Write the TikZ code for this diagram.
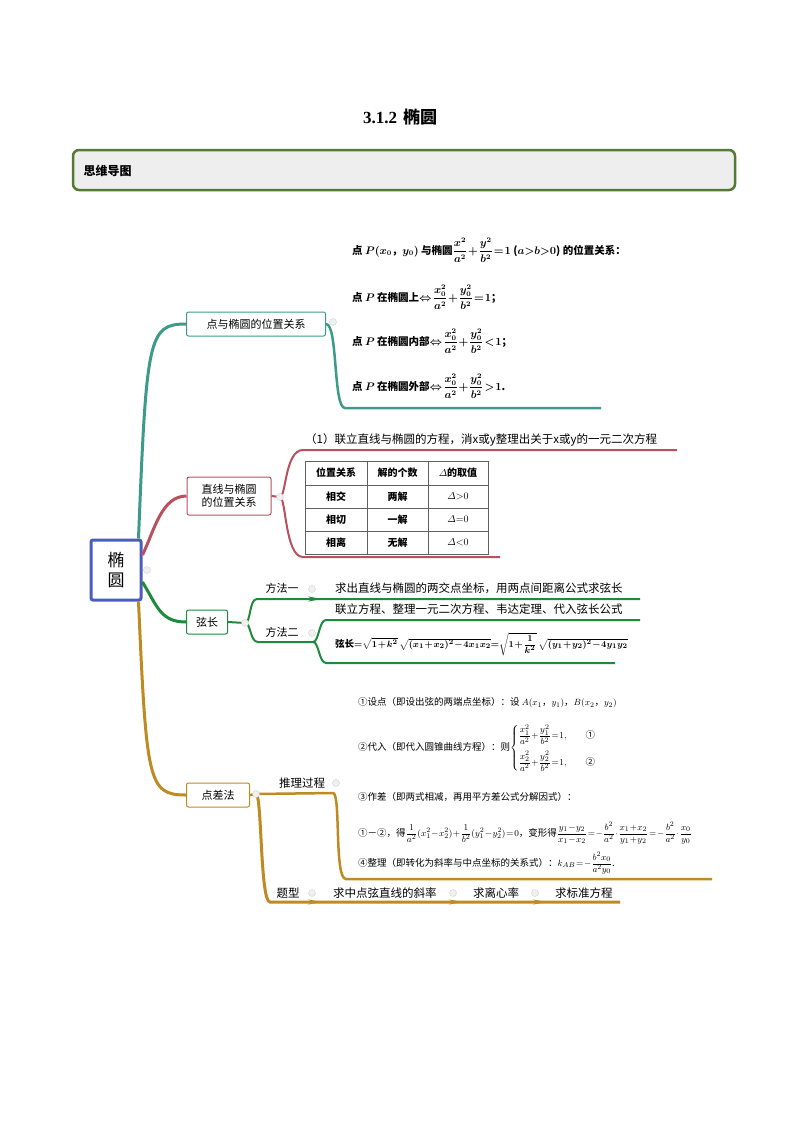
\documentclass[tikz,border=0pt]{standalone}
\usepackage{amsmath}
\usepackage{amssymb}
\usepackage[no-math]{fontspec}
\setmainfont{Noto Sans CJK SC}
\newfontfamily\titlefont{Liberation Serif}
\usetikzlibrary{calc,arrows.meta,positioning}
\definecolor{hdrgreen}{HTML}{557A35}
\definecolor{rootblue}{HTML}{4A5CC0}
\definecolor{tealbr}{HTML}{3C9A8A}
\definecolor{redbr}{HTML}{B8505E}
\definecolor{greenbr}{HTML}{1F8A3C}
\definecolor{goldbr}{HTML}{BE8A22}
\definecolor{tblgray}{HTML}{606060}
\newcommand{\fs}[1]{\fontsize{#1}{#1}\selectfont}
\newcommand{\tightmath}{\medmuskip=1mu\thickmuskip=1.5mu}

\begin{document}
\begin{tikzpicture}[x=1pt,y=-1pt,
  topic/.style={draw,rounded corners=2,line width=1,inner sep=0,minimum height=24,font=\fs{11}},
  knob/.style={circle,fill=gray!12,draw=gray!35,line width=0.4,inner sep=0,minimum size=7},
  leaf/.style={anchor=west,inner sep=0},
  cell/.style={inner sep=0,font=\bfseries\fs{10}},
  tip/.style={-{Stealth[length=14,width=5]}}]
\useasboundingbox (0,0) rectangle (800,1132);
\node (title) at (400,117) {\bfseries\fs{17}{\titlefont 3.1.2}\hspace{6pt}椭圆};
\draw[draw=hdrgreen,line width=2.5,fill=gray!13,rounded corners=6] (73,150) rectangle (735,190);
\node[anchor=west,font=\bfseries\fs{12}] (hdr) at (80,171) {思维导图};

% main topics
\node[draw=rootblue,line width=3,rounded corners=2,minimum width=50,minimum height=60,align=center,inner sep=0,font=\fs{17}] (root) at (116,570) {椭\\[3pt]圆};
\node[topic,draw=tealbr,minimum width=139] (pt) at (256,324) {点与椭圆的位置关系};
\node[topic,draw=redbr,minimum width=84,minimum height=38,align=center] (ln) at (229,496) {直线与椭圆\\[2pt]的位置关系};
\node[topic,draw=greenbr,minimum width=41] (chd) at (207,622) {弦长};
\node[topic,draw=goldbr,minimum width=63] (pd) at (218,795) {点差法};

\draw[tealbr,line width=3] ($(root.north east)+(-4,0)$) .. controls +(8,-200) and +(-38,0) .. (pt.west);
\draw[redbr,line width=3] ($(root.east)+(0,-15)$) .. controls +(12,-25) and +(-25,0) .. (ln.west);
\draw[greenbr,line width=3] ($(root.east)+(0,12)$) .. controls +(15,25) and +(-25,0) .. (chd.west);
\draw[goldbr,line width=3] ($(root.south east)+(-4,0)$) .. controls +(8,180) and +(-38,0) .. (pd.west);

% point and ellipse
\coordinate (k1) at (333,322);
\coordinate (ptbase) at (345,408);
\coordinate (ptend) at (601,408);
\draw[tealbr,line width=2.5] (pt.east) .. controls +(12,0) and +(-12,0) .. (ptbase) -- (ptend);
\begin{scope}[font=\bfseries\boldmath\fs{10.5}\tightmath]
\node[leaf] (p0) at (352,250) {点 $P(x_0$，$y_0)$ 与椭圆$\dfrac{x^2}{a^2}+\dfrac{y^2}{b^2}=1$ ($a{>}b{>}0$) 的位置关系：};
\node[leaf] (p1) at (352,297) {点 $P$ 在椭圆上$\Leftrightarrow\dfrac{x_0^2}{a^2}+\dfrac{y_0^2}{b^2}=1$；};
\node[leaf] (p2) at (352,341) {点 $P$ 在椭圆内部$\Leftrightarrow\dfrac{x_0^2}{a^2}+\dfrac{y_0^2}{b^2}<1$；};
\node[leaf] (p3) at (352,386) {点 $P$ 在椭圆外部$\Leftrightarrow\dfrac{x_0^2}{a^2}+\dfrac{y_0^2}{b^2}>1$.};
\end{scope}

% line and ellipse
\coordinate (k2) at (280,497);
\coordinate (lnup) at (303,450);
\coordinate (lnupend) at (677,450);
\coordinate (lndn) at (303,557);
\coordinate (lndnend) at (500,557);
\draw[redbr,line width=2] (ln.east) -- (k2) .. controls +(6,0) and +(-18,0) .. (lnup) -- (lnupend);
\draw[redbr,line width=2] (k2) .. controls +(6,0) and +(-18,0) .. (lndn) -- (lndnend);
\node[leaf,font=\fs{11.5}] (l0) at (305,440) {（1）联立直线与椭圆的方程，消x或y整理出关于x或y的一元二次方程};
\draw[tblgray,line width=0.9] (305,461) rectangle (488,554);
\foreach \x in {367,428} \draw[tblgray,line width=0.9] (\x,461) -- (\x,554);
\foreach \y in {485,508,531} \draw[tblgray,line width=0.9] (305,\y) -- (488,\y);
\foreach \r/\ry/\a/\b/\d in {0/473/位置关系/解的个数/$\varDelta$的取值,1/496.5/相交/两解/$\varDelta{>}0$,2/519.5/相切/一解/$\varDelta{=}0$,3/542.5/相离/无解/$\varDelta{<}0$}{
  \node[cell] (t\r a) at (336,\ry) {\a};
  \node[cell] (t\r b) at (397.5,\ry) {\b};
  \node[cell] (t\r c) at (458,\ry) {\d};
}

% chord length
\coordinate (k3) at (245,623);
\coordinate (m1) at (257,599);
\coordinate (m1arr) at (322,599);
\coordinate (m1end) at (640,599);
\coordinate (m2a) at (258,642);
\coordinate (m2) at (313,642);
\coordinate (m2up) at (326,620);
\coordinate (m2upend) at (640,620);
\coordinate (m2dn) at (326,663);
\coordinate (m2dnend) at (615,663);
\draw[greenbr,line width=2] (chd.east) -- (k3) .. controls +(6,0) and +(-8,0) .. (m1) -- (m1end);
\draw[greenbr,line width=2,tip] (m1) -- (m1arr);
\draw[greenbr,line width=2] (k3) .. controls +(6,0) and +(-8,0) .. (m2a) -- (m2);
\draw[greenbr,line width=2] (m2) .. controls +(6,0) and +(-7,0) .. (m2up) -- (m2upend);
\draw[greenbr,line width=2] (m2) .. controls +(6,0) and +(-7,0) .. (m2dn) -- (m2dnend);
\node[font=\fs{11}] (me1) at (282,588) {方法一};
\node[font=\fs{11}] (me2) at (282,632) {方法二};
\node[leaf,font=\fs{11.5}] (c1) at (335,588) {求出直线与椭圆的两交点坐标，用两点间距离公式求弦长};
\node[leaf,font=\fs{11.5}] (c2) at (335,609) {联立方程、整理一元二次方程、韦达定理、代入弦长公式};
\node[leaf,font=\bfseries\boldmath\fs{9.5}\tightmath] (c3) at (335,644) {弦长${=}\sqrt{1+k^2}\,\sqrt{(x_1+x_2)^2-4x_1x_2}{=}\sqrt{1+\dfrac{1}{k^2}}\,\sqrt{(y_1+y_2)^2-4y_1y_2}$};

% point difference
\coordinate (k4) at (256,794);
\coordinate (g1) at (333,793);
\coordinate (g1b) at (346,879);
\coordinate (g1end) at (712,879);
\coordinate (g2) at (270,902);
\coordinate (g2end) at (620,902);
\draw[goldbr,line width=2.5] (pd.east) -- (k4) -- (g1) .. controls +(8,0) and +(-12,0) .. (g1b) -- (g1end);
\draw[goldbr,line width=3] (k4) .. controls +(6,0) and +(-10,0) .. (g2) -- (g2end);
\foreach \t in {322,463,547} \draw[goldbr,line width=2,tip] (\t-16,902) -- (\t,902);
\node[font=\fs{11.5}] (rp) at (302,783) {推理过程};
\node[font=\fs{11.5}] (tx) at (288,893) {题型};
\node[leaf,font=\fs{11.5}] (q1) at (333,893) {求中点弦直线的斜率};
\node[leaf,font=\fs{11.5}] (q2) at (473,893) {求离心率};
\node[leaf,font=\fs{11.5}] (q3) at (555,893) {求标准方程};
\begin{scope}[font=\fs{9.5}\tightmath]
\node[leaf] (s1) at (358,703) {①设点（即设出弦的两端点坐标）：设 $A(x_1$，$y_1)$，$B(x_2$，$y_2)$};
\node[leaf] (s2) at (358,748) {②代入（即代入圆锥曲线方程）：则$\begin{cases}\dfrac{x_1^2}{a^2}+\dfrac{y_1^2}{b^2}=1, & \quad\text{①}\\[9pt] \dfrac{x_2^2}{a^2}+\dfrac{y_2^2}{b^2}=1, & \quad\text{②}\end{cases}$};
\node[leaf] (s3) at (358,797) {③作差（即两式相减，再用平方差公式分解因式）：};
\node[leaf] (s4) at (358,833) {①－②，得$\dfrac{1}{a^2}(x_1^2-x_2^2)+\dfrac{1}{b^2}(y_1^2-y_2^2)=0$，变形得$\dfrac{y_1-y_2}{x_1-x_2}=-\dfrac{b^2}{a^2}\cdot\dfrac{x_1+x_2}{y_1+y_2}=-\dfrac{b^2}{a^2}\cdot\dfrac{x_0}{y_0}$};
\node[leaf] (s5) at (358,863) {④整理（即转化为斜率与中点坐标的关系式）：$k_{AB}=-\dfrac{b^2x_0}{a^2y_0}$.};
\end{scope}

% knobs
\foreach \k in {(147,570),(k1),(k2),(k3),(312,589),(312,633),(k4),(336,783),(312,893),(453,893),(535,893)}
  \node[knob] (kn) at \k {};
\end{tikzpicture}
\end{document}
